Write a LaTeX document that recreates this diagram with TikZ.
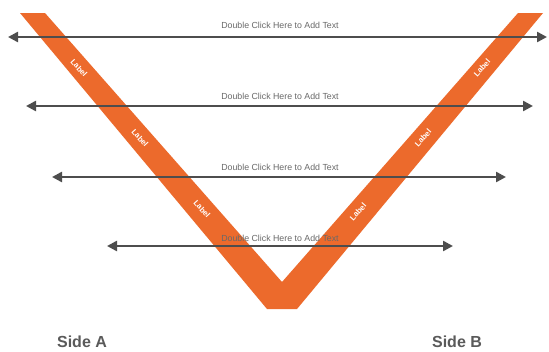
\documentclass[tikz,border=0pt]{standalone}
\usepackage{fontspec}
\setmainfont{Liberation Sans}
\usetikzlibrary{arrows.meta}
\definecolor{vorange}{RGB}{236,106,44}
\definecolor{agray}{RGB}{77,77,77}
\definecolor{tgray}{RGB}{105,105,105}
\definecolor{sgray}{RGB}{90,90,90}
\begin{document}
\begin{tikzpicture}[x=1pt,y=-1pt,
  arr/.style={draw=agray,line width=2.4pt,{Triangle[length=10pt,width=10pt]}-{Triangle[length=10pt,width=10pt]}},
  dtext/.style={text=tgray,font=\fontsize{8.8}{10}\selectfont,inner sep=0pt},
  lbl/.style={text=white,font=\bfseries\fontsize{7.8}{9}\selectfont,inner sep=0pt},
  side/.style={text=sgray,font=\bfseries\fontsize{16}{18}\selectfont,inner sep=0pt}]
\useasboundingbox (0,0) rectangle (549,351);
\fill[white] (0,0) rectangle (549,351);
% V band
\fill[vorange] (20,13) -- (45,13) -- (282,282) -- (518,13) -- (543,13) -- (297,309) -- (267,309) -- cycle;
% labels on the band
\node[lbl,rotate=-48] (la1) at (79,68) {Label};
\node[lbl,rotate=-48] (la2) at (140,138) {Label};
\node[lbl,rotate=-48] (la3) at (202,209) {Label};
\node[lbl,rotate=48] (lb1) at (482,68) {Label};
\node[lbl,rotate=48] (lb2) at (423,138) {Label};
\node[lbl,rotate=48] (lb3) at (358,212) {Label};
% arrow end points
\coordinate (a1l) at (8,37);   \coordinate (a1r) at (547,37);
\coordinate (a2l) at (26,106); \coordinate (a2r) at (533,106);
\coordinate (a3l) at (52,177); \coordinate (a3r) at (506,177);
\coordinate (a4l) at (107,246);\coordinate (a4r) at (453,246);
\draw[arr] (a1l) -- (a1r);
\draw[arr] (a2l) -- (a2r);
\draw[arr] (a3l) -- (a3r);
\draw[arr] (a4l) -- (a4r);
% texts
\node[dtext] (t1) at (280,25) {Double Click Here to Add Text};
\node[dtext] (t2) at (280,96) {Double Click Here to Add Text};
\node[dtext] (t3) at (280,167) {Double Click Here to Add Text};
\node[dtext] (t4) at (280,238) {Double Click Here to Add Text};
\node[side] (sa) at (82,342) {Side A};
\node[side] (sb) at (457,342) {Side B};
\end{tikzpicture}
\end{document}
